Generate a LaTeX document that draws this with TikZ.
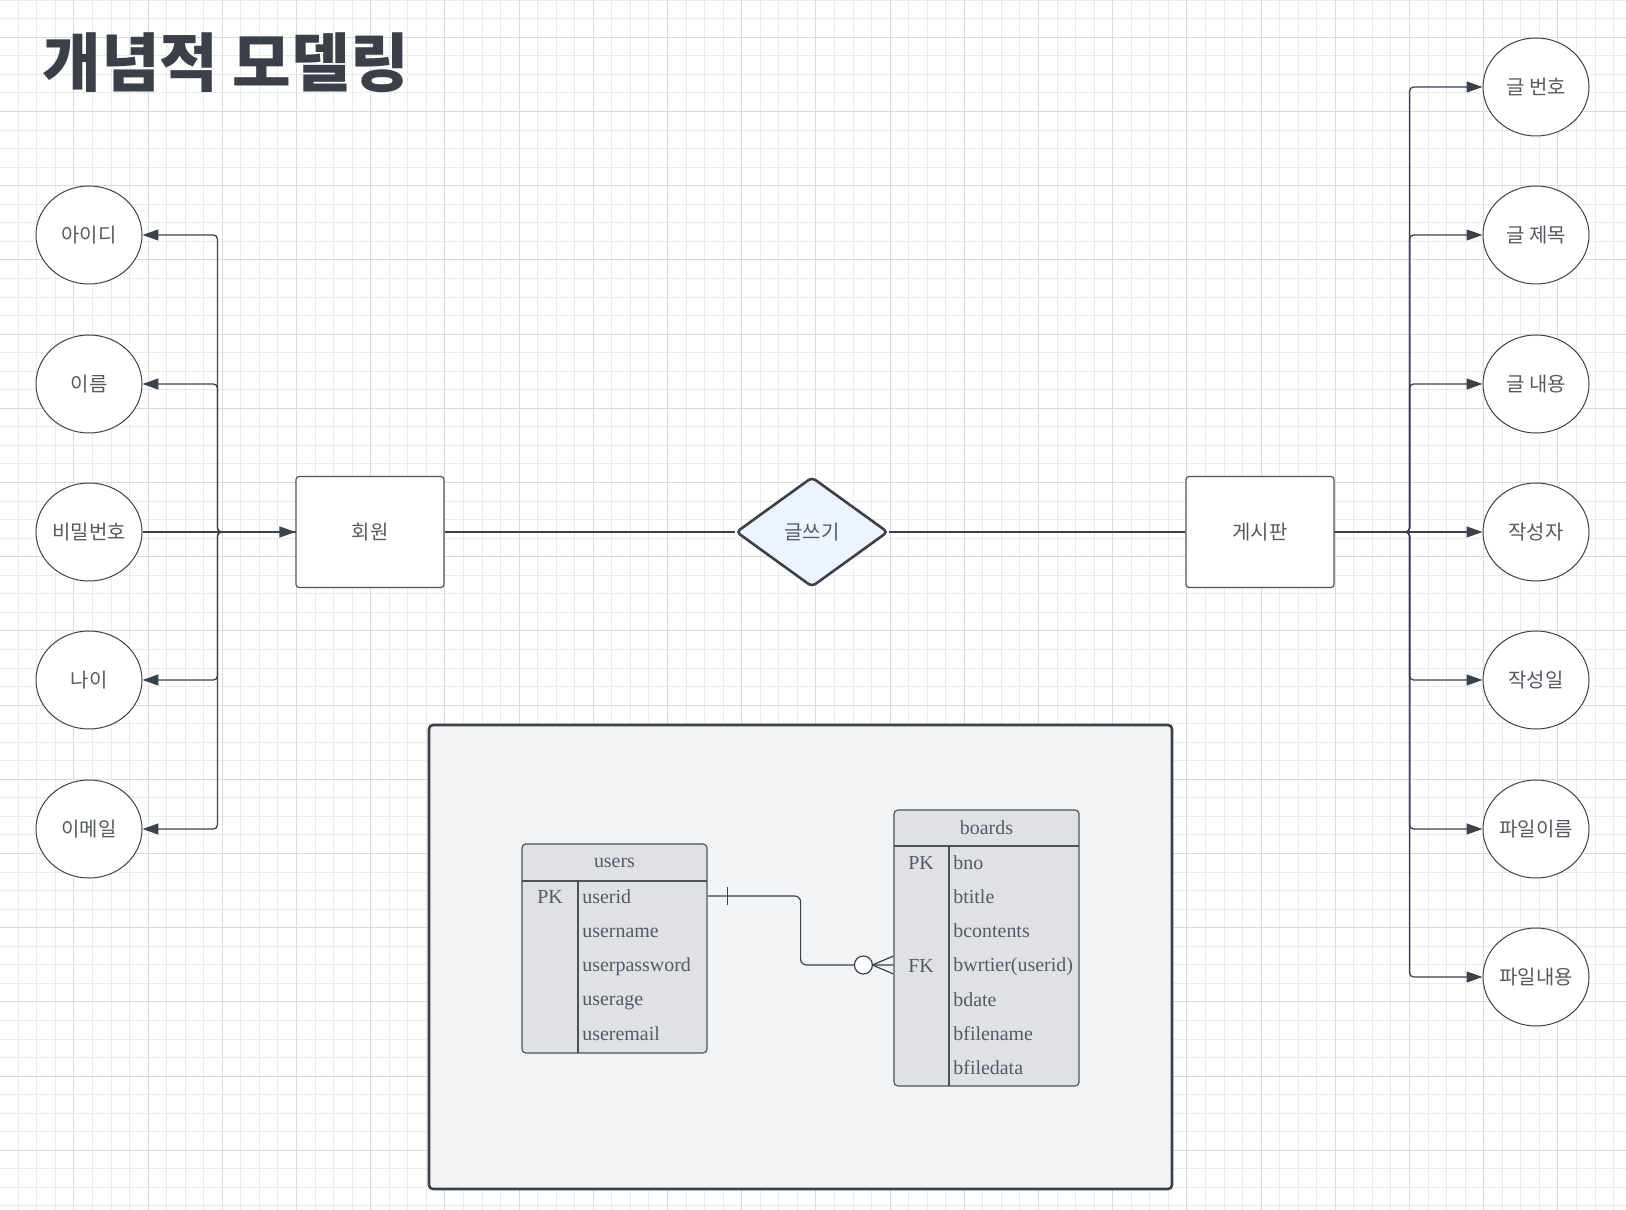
\documentclass[tikz,border=0pt]{standalone}
\usepackage{fontspec}
\setmainfont{Liberation Serif}
\newfontfamily\kr{Noto Sans CJK KR}
\usetikzlibrary{shapes.geometric,arrows.meta,calc}
\definecolor{ink}{HTML}{3A414A}
\definecolor{label}{HTML}{555A62}
\definecolor{titlec}{HTML}{3B4048}
\definecolor{gridA}{HTML}{EBEBEB}
\definecolor{gridB}{HTML}{DADADA}
\definecolor{relfill}{HTML}{EDF3FF}
\definecolor{panelfill}{HTML}{F2F3F5}
\definecolor{tblfill}{HTML}{DFE1E6}
\definecolor{tblline}{HTML}{4D5259}
\begin{document}
\begin{tikzpicture}[x=0.5bp,y=-0.5bp,
    gridminor/.style={draw=gridA,line width=0.5bp},
    gridmajor/.style={draw=gridB,line width=0.5bp},
    attr/.style={ellipse,draw=ink,line width=0.5pt,fill=white,minimum width=53bp,minimum height=49bp,inner sep=0pt,text=label,font=\kr\fontsize{10}{12}\selectfont},
    entity/.style={rectangle,rounded corners=1.5pt,draw=tblline,line width=0.6pt,fill=white,minimum width=74bp,minimum height=55.5bp,text=label,font=\kr\fontsize{10}{12}\selectfont},
    relation/.style={diamond,draw=ink,line width=1.3pt,fill=relfill,rounded corners=2pt,minimum width=76bp,minimum height=55bp,inner sep=0pt,text=label,font=\kr\fontsize{10}{12}\selectfont},
    conn/.style={draw=ink,line width=0.65pt,rounded corners=2pt,-{Triangle[length=8pt,width=5.5pt]}},
    plain/.style={draw=ink,line width=0.6pt},
    tbl/.style={rectangle,draw=tblline,fill=tblfill,rounded corners=2pt,line width=0.6pt,inner sep=0pt},
    fld/.style={anchor=base west,inner sep=0pt,text=label,font=\fontsize{10}{12}\selectfont},
    key/.style={anchor=base,inner sep=0pt,text=label,font=\fontsize{10}{12}\selectfont}]
  \useasboundingbox (0,0) rectangle (1626,1210);
  \fill[white] (0,0) rectangle (1626,1210);
  % grid
  \foreach \i in {0,...,88} {
    \pgfmathsetmacro\gx{round(\i*18.55-0.8)+0.5}
    \draw[gridminor] (\gx,0) -- ++(0,1210);
  }
  \foreach \i in {0,...,66} {
    \pgfmathsetmacro\gy{round(\i*18.55-0.3)+0.5}
    \draw[gridminor] (0,\gy) -- ++(1626,0);
  }
  \foreach \i in {0,...,22} {
    \pgfmathsetmacro\gx{round(\i*74.2-0.8)+0.5}
    \draw[gridmajor] (\gx,0) -- ++(0,1210);
  }
  \foreach \i in {0,...,16} {
    \pgfmathsetmacro\gy{round(\i*74.2+36.8)+0.5}
    \draw[gridmajor] (0,\gy) -- ++(1626,0);
  }
  % title
  \node[anchor=west,inner sep=0pt,text=titlec,font=\kr\bfseries\fontsize{32}{38}\selectfont] (title) at (42,63) {개념적 모델링};
  % entities and relation
  \node[entity] (member) at (370,532) {회원};
  \node[relation] (write) at (812,532) {글쓰기};
  \node[entity] (board) at (1260,532) {게시판};
  \draw[plain] (member) -- (write);
  \draw[plain] (write) -- (board);
  % member attributes
  \node[attr] (aid) at (89,235) {아이디};
  \node[attr] (uname) at (89,384) {이름};
  \node[attr] (pw) at (89,532) {비밀번호};
  \node[attr] (age) at (89,680) {나이};
  \node[attr] (mail) at (89,829) {이메일};
  \foreach \t in {aid,uname,age,mail}
    \draw[conn] (member.west) -- ++(-78,0) |- (\t.east);
  \draw[conn] (pw.east) -- (member.west);
  % board attributes
  \node[attr] (no) at (1536,87) {글 번호};
  \node[attr] (ttl) at (1536,235) {글 제목};
  \node[attr] (cont) at (1536,384) {글 내용};
  \node[attr] (writer) at (1536,532) {작성자};
  \node[attr] (wdate) at (1536,680) {작성일};
  \node[attr] (fname) at (1536,829) {파일이름};
  \node[attr] (fdata) at (1536,977) {파일내용};
  \foreach \t in {no,ttl,cont,wdate,fname,fdata}
    \draw[conn] (board.east) -- ++(75,0) |- (\t.west);
  \draw[conn] (board.east) -- (writer.west);
  % logical model panel
  \draw[draw=ink,fill=panelfill,line width=1.3pt,rounded corners=2pt] (429,725) rectangle (1172,1189);
  \node[tbl,minimum width=92.5bp,minimum height=104.5bp] (users) at (614.5,948.5) {};
  \draw[draw=tblline,line width=0.6pt] (522,881) -- (707,881);
  \draw[draw=tblline,line width=0.6pt] (578,881) -- (578,1053);
  \node[key] (users-h) at (614.5,867) {users};
  \node[key] (users-pk) at (550,903) {PK};
  \foreach \f [count=\i from 0] in {userid,username,userpassword,userage,useremail}
    \node[fld] (u-\f) at (582,903+\i*34.3) {\f};
  \node[tbl,minimum width=92.5bp,minimum height=138bp] (boards) at (986.5,948) {};
  \draw[draw=tblline,line width=0.6pt] (894,846) -- (1079,846);
  \draw[draw=tblline,line width=0.6pt] (949,846) -- (949,1086);
  \node[key] (boards-h) at (986.5,834) {boards};
  \node[key] (boards-pk) at (921,869) {PK};
  \node[key] (boards-fk) at (921,972) {FK};
  \foreach \f [count=\i from 0] in {bno,btitle,bcontents,bwrtier(userid),bdate,bfilename,bfiledata}
    \node[fld] (b-\i) at (953,869+\i*34.3) {\f};
  % relationship users - boards
  \coordinate (uend) at (users.east |- 0,896);
  \coordinate (bend) at (boards.west |- 0,965);
  \draw[plain,rounded corners=3pt] (uend) -- ++(93,0) |- (bend);
  \draw[plain] ($(uend)+(20,-9)$) -- ++(0,18);
  \draw[plain] ($(bend)+(-21,0)$) -- ($(bend)+(0,-9)$);
  \draw[plain] ($(bend)+(-21,0)$) -- ($(bend)+(0,9)$);
  \draw[plain,fill=white] ($(bend)+(-30,0)$) circle[radius=4.5bp];
\end{tikzpicture}
\end{document}
